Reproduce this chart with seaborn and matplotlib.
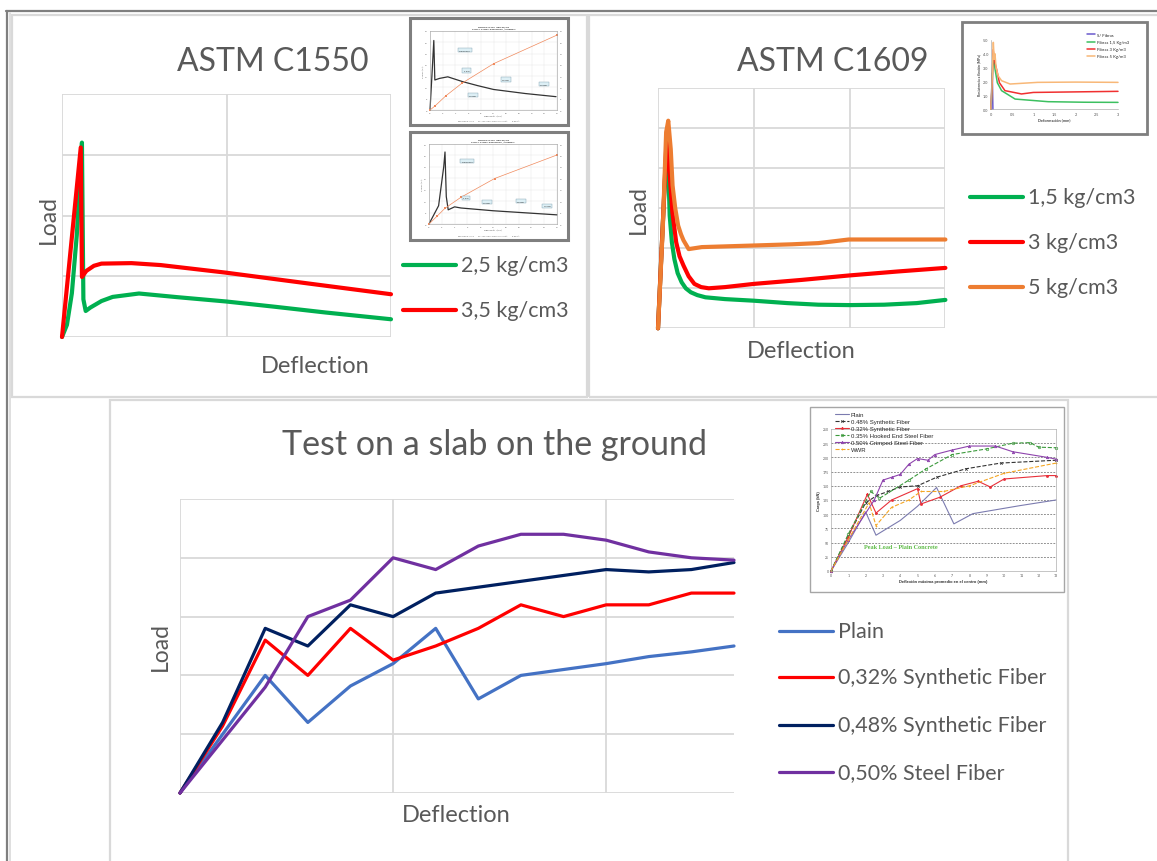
import matplotlib
matplotlib.use("Agg")
import matplotlib.pyplot as plt
import seaborn as sns
from matplotlib.lines import Line2D
from matplotlib.patches import Rectangle

sns.set_theme(style="white")
plt.rcParams['font.family'] = ['Lato', 'DejaVu Sans']

# ---------------- data ----------------
# ASTM C1550 (x: 0-100 relative deflection, y: 0-100 relative load)
c1550_x_25 = [0, 1.5, 3, 4.5, 5.5, 6.06, 6.5, 7.2, 8.6, 12, 15.4, 23.4, 35, 50, 65, 80, 100]
c1550_y_25 = [0, 5, 18, 42, 66, 80, 15.5, 10.7, 12.1, 14.8, 16.5, 17.9, 16.4, 14.6, 12.4, 10.1, 7.3]
c1550_x_35 = [0, 5.7, 6.06, 7.4, 9.7, 12, 21.1, 30, 49.7, 75, 100]
c1550_y_35 = [0, 78, 24.7, 27.2, 29.3, 30.2, 30.4, 29.6, 26.5, 22, 17.6]
c1550_labels = ["2,5 kg/cm3", "3,5 kg/cm3"]

# ASTM C1609 (x: 0-3, y: 0-6)
c1609_x_15 = [0, 0.05, 0.095, 0.11, 0.122, 0.145, 0.171, 0.205, 0.247, 0.29, 0.343, 0.41, 0.495, 0.7, 1.0, 1.35, 1.675, 2.0, 2.36, 2.7, 3.0]
c1609_y_15 = [0, 2.6, 4.8, 3.8, 2.82, 2.15, 1.73, 1.38, 1.15, 1.0, 0.9, 0.83, 0.775, 0.73, 0.69, 0.63, 0.59, 0.58, 0.59, 0.63, 0.71]
c1609_x_3 = [0, 0.05, 0.095, 0.12, 0.15, 0.19, 0.225, 0.266, 0.32, 0.38, 0.45, 0.53, 0.7, 1.0, 1.5, 1.99, 2.5, 3.0]
c1609_y_3 = [0, 2.6, 5.0, 3.9, 2.9, 2.15, 1.8, 1.57, 1.3, 1.11, 1.03, 1.0, 1.03, 1.11, 1.21, 1.32, 1.42, 1.51]
c1609_x_5 = [0, 0.05, 0.085, 0.107, 0.133, 0.152, 0.18, 0.21, 0.24, 0.266, 0.32, 0.457, 1.0, 1.4, 1.675, 1.85, 1.99, 2.5, 3.0]
c1609_y_5 = [0, 2.5, 4.9, 5.19, 4.48, 3.57, 3.0, 2.57, 2.35, 2.2, 1.98, 2.03, 2.07, 2.1, 2.13, 2.18, 2.22, 2.22, 2.22]
c1609_labels = ["1,5 kg/cm3", "3 kg/cm3", "5 kg/cm3"]

# Slab on ground (x: 0-13, y: 0-250)
slab_x = list(range(14))
slab_plain = [0, 50, 100, 60, 91, 110, 140, 80, 100, 105, 110, 116, 120, 125]
slab_032 = [0, 57, 130, 100, 140, 113, 125, 140, 160, 150, 160, 160, 170, 170]
slab_048 = [0, 60, 140, 125, 160, 150, 170, 175, 180, 185, 190, 188, 190, 196]
slab_050 = [0, 45, 90, 150, 164, 200, 190, 210, 220, 220, 215, 205, 200, 198]
slab_labels = ["Plain", "0,32% Synthetic Fiber", "0,48% Synthetic Fiber", "0,50% Steel Fiber"]

# inset: ASTM C1550 screenshots
insA_bx = [0, 0.3, 0.6, 0.76, 1.5, 2.8, 4, 5.1, 7.5, 10, 15, 19.85]
insA_by = [0, 15, 30.8, 13.3, 14, 14.7, 13.6, 12.6, 10.8, 9.1, 7.3, 5.9]
insA_ox = [0, 0.75, 2.5, 5, 10, 20]
insA_oy = [0, 1.7, 6.3, 11.8, 20.5, 33.2]
insB_bx = [0, 1.5, 2.3, 2.5, 2.7, 3.0, 4, 5, 10, 15, 20]
insB_by = [0, 8, 25, 31.5, 12, 6.2, 7.5, 7, 5.8, 4.9, 4]
insB_ox = [0, 1.25, 2.5, 5, 10.25, 20]
insB_oy = [0, 3.4, 6.9, 11.7, 19.9, 30.2]
insA_notes = ["Carga máx.", "5 mm", "10 mm", "20 mm", "40 mm"]

# inset: ASTM C1609 screenshot
ins9_x_0 = [0, 0.03, 0.045]
ins9_y_0 = [0, 2.6, 0]
ins9_x_15 = [0, 0.03, 0.05, 0.094, 0.15, 0.25, 0.57, 1.35, 2.2, 3]
ins9_y_15 = [0, 2.0, 4.0, 2.9, 1.9, 1.33, 0.72, 0.53, 0.49, 0.48]
ins9_x_3 = [0, 0.03, 0.05, 0.09, 0.13, 0.2, 0.33, 0.72, 1.0, 2, 3]
ins9_y_3 = [0, 2.0, 4.3, 3.4, 2.9, 1.9, 1.33, 1.09, 1.2, 1.24, 1.28]
ins9_x_5 = [0, 0.03, 0.055, 0.075, 0.094, 0.12, 0.17, 0.25, 0.45, 1.1, 2, 3]
ins9_y_5 = [0, 2.5, 4.83, 3.6, 4.0, 3.0, 2.4, 2.05, 1.81, 1.93, 1.95, 1.93]
ins9_labels = ["S/ Fibras", "Fibras 1,5 Kg/m3", "Fibras 3 Kg/m3", "Fibras 5 Kg/m3"]

# inset: slab screenshot
insS_x_plain = [0, 1, 2, 2.6, 4, 5, 6.1, 7.1, 8.2, 10.9, 13]
insS_y_plain = [0, 50, 104, 63, 89, 114, 147, 83, 101, 115, 125]
insS_x_48 = [0, 1, 2, 2.65, 3.3, 4, 5, 6.1, 7.8, 9.8, 13]
insS_y_48 = [0, 62, 120, 133, 140, 148, 150, 165, 180, 190, 195]
insS_x_32 = [0, 1, 2.1, 2.6, 3.5, 5, 5.2, 6.3, 7.5, 8.5, 9.2, 10, 12.5, 13]
insS_y_32 = [0, 60, 135, 102, 125, 145, 118, 130, 150, 158, 148, 162, 168, 168]
insS_x_35 = [0, 1, 2.3, 2.8, 4.5, 5.5, 7, 9, 10.5, 11.5, 12, 13]
insS_y_35 = [0, 65, 140, 128, 160, 180, 205, 215, 225, 226, 218, 217]
insS_x_50 = [0, 1, 2.5, 3, 3.5, 4, 4.5, 5, 5.6, 6, 7, 8, 9.5, 10.5, 12.5, 13]
insS_y_50 = [0, 55, 125, 160, 165, 170, 188, 198, 195, 205, 213, 220, 220, 210, 200, 197]
insS_x_wwr = [0, 1, 2.2, 2.6, 3.5, 4.5, 5.2, 6.5, 8, 10, 13]
insS_y_wwr = [0, 55, 120, 80, 112, 125, 140, 140, 150, 172, 190]
insS_labels = ["Plain", "0.48% Synthetic Fiber", "0.32% Synthetic Fiber",
               "0.35% Hooked End Steel Fiber", "0.50% Crimped Steel Fiber", "WWR"]

# ---------------- figure ----------------
W, H = 1157, 862
fig = plt.figure(figsize=(W / 100, H / 100), dpi=100)
fig.patch.set_facecolor('white')
TXT = '#595959'
GRID = '#D9D9D9'


def fx(x):
    return x / W


def fy(y):
    return 1 - y / H


def ax_px(x0, y0, x1, y1, z=1):
    ax = fig.add_axes([x0 / W, 1 - y1 / H, (x1 - x0) / W, (y1 - y0) / H])
    ax.set_zorder(z)
    return ax


def frame(x0, y0, x1, y1, color, lw, fc='none'):
    fig.add_artist(Rectangle((fx(x0), fy(y1)), (x1 - x0) / W, (y1 - y0) / H,
                             transform=fig.transFigure, fc=fc, ec=color, lw=lw, zorder=-1))


def hline(x0, x1, y, color, lw):
    fig.add_artist(Line2D([fx(x0), fx(x1)], [fy(y), fy(y)], transform=fig.transFigure,
                          color=color, lw=lw, zorder=-1))


def vline(x, y0, y1, color, lw):
    fig.add_artist(Line2D([fx(x), fx(x)], [fy(y0), fy(y1)], transform=fig.transFigure,
                          color=color, lw=lw, zorder=-1))


def main_axes(x0, y0, x1, y1, xlim, ylim, xg, yg):
    ax = ax_px(x0, y0, x1, y1)
    ax.set_xlim(*xlim)
    ax.set_ylim(*ylim)
    ax.set_xticks(xg)
    ax.set_yticks(yg)
    ax.grid(True, color=GRID, lw=1.3)
    ax.tick_params(length=0, labelbottom=False, labelleft=False)
    for s in ax.spines.values():
        s.set_visible(False)
    ax.set_facecolor('none')
    return ax


def draw(ax, xs, ys, color, lw, **kw):
    sns.lineplot(x=xs, y=ys, ax=ax, color=color, lw=lw, estimator=None, sort=False, **kw)
    ln = ax.lines[-1]
    ln.set_clip_on(False)
    ln.set_solid_joinstyle('round')
    ax.set_xlabel('')
    ax.set_ylabel('')


def legend_entry(x0, x1, y, color, label, lw, tx, fs=16):
    fig.add_artist(Line2D([fx(x0), fx(x1)], [fy(y), fy(y)], transform=fig.transFigure,
                          color=color, lw=lw, solid_capstyle='round'))
    fig.text(fx(tx), fy(y), label, ha='left', va='center', fontsize=fs, color=TXT)


# ---------- panel frames ----------
hline(6, W, 12, '#7F7F7F', 1.6)
vline(7, 12, H, '#7F7F7F', 1.6)
vline(9.5, 14, H, GRID, 1.2)
frame(12, 16, 587, 398, GRID, 1.6)
frame(589, 16, W + 5, 398, GRID, 1.6)
frame(110, 401, 1068, H + 5, GRID, 1.6)

# ---------- Panel 1: ASTM C1550 ----------
ax1 = main_axes(62, 95, 391, 338, (0, 100), (0, 100), [0, 50, 100], [0, 25, 50, 75, 100])
draw(ax1, c1550_x_25, c1550_y_25, '#00B050', 3.0)
draw(ax1, c1550_x_35, c1550_y_35, '#FF0000', 3.0)
fig.text(fx(273), fy(61.7), 'ASTM C1550', ha='center', va='center', fontsize=23, color=TXT)
fig.text(fx(48), fy(219), 'Load', ha='center', va='center', rotation=90, fontsize=16.5, color=TXT)
fig.text(fx(315), fy(366.7), 'Deflection', ha='center', va='center', fontsize=17, color=TXT)
legend_entry(403, 456, 265.7, '#00B050', c1550_labels[0], 3.0, 461, fs=15.5)
legend_entry(403, 456, 310.7, '#FF0000', c1550_labels[1], 3.0, 461, fs=15.5)

# ---------- Panel 2: ASTM C1609 ----------
ax2 = main_axes(658, 89.3, 945.4, 329.3, (0, 3), (0, 6), [0, 1, 2, 3], range(7))
draw(ax2, c1609_x_15, c1609_y_15, '#00B050', 3.0)
draw(ax2, c1609_x_3, c1609_y_3, '#FF0000', 3.0)
draw(ax2, c1609_x_5, c1609_y_5, '#ED7D31', 3.0)
fig.text(fx(833), fy(61.7), 'ASTM C1609', ha='center', va='center', fontsize=23, color=TXT)
fig.text(fx(638), fy(209), 'Load', ha='center', va='center', rotation=90, fontsize=16.5, color=TXT)
fig.text(fx(801), fy(351.3), 'Deflection', ha='center', va='center', fontsize=17, color=TXT)
legend_entry(970, 1022.8, 197.7, '#00B050', c1609_labels[0], 3.0, 1027.5, fs=15.5)
legend_entry(970, 1022.8, 242.7, '#FF0000', c1609_labels[1], 3.0, 1027.5, fs=15.5)
legend_entry(970, 1022.8, 287.7, '#ED7D31', c1609_labels[2], 3.0, 1027.5, fs=15.5)

# ---------- Panel 3: slab ----------
ax3 = main_axes(180, 500, 734, 794, (0, 13), (0, 250), [0, 5, 10], range(0, 251, 50))
slab_cols = ['#4472C4', '#FF0000', '#002060', '#7030A0']
for ys, c in zip([slab_plain, slab_032, slab_048, slab_050], slab_cols):
    draw(ax3, slab_x, ys, c, 2.3)
fig.text(fx(494), fy(445), 'Test on a slab on the ground', ha='center', va='center', fontsize=24.5,
         color=TXT)
fig.text(fx(160), fy(646.7), 'Load', ha='center', va='center', rotation=90, fontsize=16.5, color=TXT)
fig.text(fx(456), fy(815.7), 'Deflection', ha='center', va='center', fontsize=17, color=TXT)
for yy, c, lab in zip([631.7, 678.3, 725.7, 772.7], slab_cols, slab_labels):
    legend_entry(779, 832.7, yy, c, lab, 2.3, 837.7, fs=15.5)


# ---------- insets (screenshots) ----------
def tiny_axes(x0, y0, x1, y1, xlim, ylim, fs=2):
    ax = ax_px(x0, y0, x1, y1, z=3)
    ax.set_xlim(*xlim)
    ax.set_ylim(*ylim)
    ax.set_facecolor('white')
    ax.tick_params(labelsize=fs, length=1, width=0.3, pad=0.8, colors='#555555')
    for s in ax.spines.values():
        s.set_linewidth(0.4)
        s.set_color('#999999')
    return ax


def c1550_inset(bx0, by0, bx1, by1, px0, py0, px1, py1, bxs, bys, oxs, oys, notes_pos):
    frame(bx0, by0, bx1, by1, '#7F7F7F', 2.2, fc='white')
    ax = tiny_axes(px0, py0, px1, py1, (0, 20), (0, 35), fs=1.6)
    ax.set_xticks(range(0, 21, 2))
    ax.set_yticks(range(0, 36, 5))
    ax.grid(True, color='#E4E4E4', lw=0.3)
    ax.tick_params(labelright=True)
    draw(ax, bxs, bys, '#333333', 0.9)
    draw(ax, oxs, oys, '#F08A5D', 0.5, marker='s', markersize=1.5, markeredgewidth=0)
    ax.set_ylabel('CARGA (kN)', fontsize=1.6, labelpad=0.5, color='#555555')
    ax.set_xlabel('DEFLEXIÓN (mm)', fontsize=1.6, labelpad=0.5, color='#555555')
    ax.set_title('DOSIFICACIÓN  fibra kg/m3\nCURVA CARGA-DEFLEXIÓN / ENERGÍA', fontsize=1.7,
                 pad=1, color='#333333', fontweight='bold')
    for (nx, ny), t in zip(notes_pos, insA_notes):
        ax.text(nx, ny, t, fontsize=1.6, ha='center', va='center', color='#333333',
                bbox=dict(boxstyle='square,pad=0.7', fc='#DDEFF5', ec='#7F9FAF', lw=0.3))
    fig.text(fx((bx0 + bx1) / 2), fy(by1 - 5), 'REGISTRO ENSAYO        PUNTOS CURVA CARGA-DEFLEXIÓN        ENERGÍA',
             fontsize=1.3, ha='center', va='center', color='#666666', zorder=5)


c1550_inset(410, 19, 567.5, 126, 430, 32, 557, 111, insA_bx, insA_by, insA_ox, insA_oy,
            [(5.5, 26.5), (5.8, 17.5), (6.7, 6.5), (11.9, 13.5), (17.9, 11.5)])
c1550_inset(410, 133, 567.5, 241, 429, 145, 557, 225, insB_bx, insB_by, insB_ox, insB_oy,
            [(6.0, 27.5), (5.8, 11.5), (9.0, 9.5), (14.3, 10.0), (18.5, 8.0)])

# C1609 inset
frame(962, 22.7, 1147, 135, '#7F7F7F', 2.0, fc='white')
ax9 = tiny_axes(991, 41, 1118, 110, (0, 3), (0, 5), fs=2.8)
ax9.set_xticks([0, 0.5, 1, 1.5, 2, 2.5, 3])
ax9.set_xticklabels(['0', '0.5', '1', '1.5', '2', '2.5', '3'])
ax9.set_yticks(range(6))
ax9.set_yticklabels(['0.0', '1.0', '2.0', '3.0', '4.0', '5.0'])
ax9.spines['top'].set_visible(False)
ax9.spines['right'].set_visible(False)
ins9_cols = ['#6A5ACD', '#3CC060', '#F03030', '#F8B878']
for xs, ys, c in zip([ins9_x_0, ins9_x_15, ins9_x_3, ins9_x_5], [ins9_y_0, ins9_y_15, ins9_y_3, ins9_y_5], ins9_cols):
    draw(ax9, xs, ys, c, 1.1)
ax9.set_xlabel('Deformación (mm)', fontsize=2.8, labelpad=1.5, color='#444444', fontweight='bold')
ax9.set_ylabel('Resistencia a flexión (MPa)', fontsize=2.5, labelpad=1, color='#444444', fontweight='bold')
h9 = [Line2D([0], [0], color=c, lw=1.1) for c in ins9_cols]
ax9.legend(h9, ins9_labels, fontsize=3.1, frameon=False, loc='upper left', bbox_to_anchor=(0.74, 1.13),
           handlelength=2.0, labelspacing=0.75, borderaxespad=0, handletextpad=0.4)

# slab inset
frame(810, 408, 1064, 593, '#A6A6A6', 1.0, fc='white')
axs = tiny_axes(831, 430, 1056, 572, (0, 13), (0, 250), fs=2.5)
axs.set_xticks(range(14))
axs.set_yticks(range(0, 251, 25))
for yv in range(25, 250, 25):
    axs.axhline(yv, color='#555555', lw=0.45, ls=(0, (3, 2)), zorder=0)
sl_cols = ['#7B7BAF', '#333333', '#E8303A', '#3C9A3C', '#8E44AD', '#F5A623']
sl_marks = [None, 'x', '*', 'o', '^', '+']
sl_ls = ['-', '--', '-', '--', '-', '--']
for xs, ys, c, m, ls in zip([insS_x_plain, insS_x_48, insS_x_32, insS_x_35, insS_x_50, insS_x_wwr],
                            [insS_y_plain, insS_y_48, insS_y_32, insS_y_35, insS_y_50, insS_y_wwr],
                            sl_cols, sl_marks, sl_ls):
    if m is None:
        draw(axs, xs, ys, c, 0.8, linestyle=ls)
    else:
        draw(axs, xs, ys, c, 0.8, linestyle=ls, marker=m, markersize=1.8, markeredgewidth=0.5,
             markerfacecolor='none' if m == 'o' else c, markeredgecolor=c)
axs.set_xlabel('Deflexión máxima promedio en el centro (mm)', fontsize=2.9, labelpad=1, color='#333333',
               fontweight='bold', family='Liberation Sans')
axs.set_ylabel('Carga (kN)', fontsize=2.8, labelpad=1, color='#333333', fontweight='bold',
               family='Liberation Sans')
axs.text(1.9, 40, 'Peak Load – Plain Concrete', fontsize=4.4, color='#5DBB46', fontweight='bold',
         family='Liberation Serif')
hs = [Line2D([0], [0], color=c, lw=0.8, ls=ls, marker=m, markersize=1.8, markeredgewidth=0.5,
             markerfacecolor='none' if m == 'o' else c) for c, m, ls in zip(sl_cols, sl_marks, sl_ls)]
axs.legend(hs, insS_labels, prop={'family': 'Liberation Sans', 'size': 4.3}, frameon=False,
           loc='upper left', bbox_to_anchor=(0.005, 1.135),
           handlelength=2.4, labelspacing=0.28, borderaxespad=0, handletextpad=0.3)

fig.savefig('out.png', dpi=100, facecolor='white')
